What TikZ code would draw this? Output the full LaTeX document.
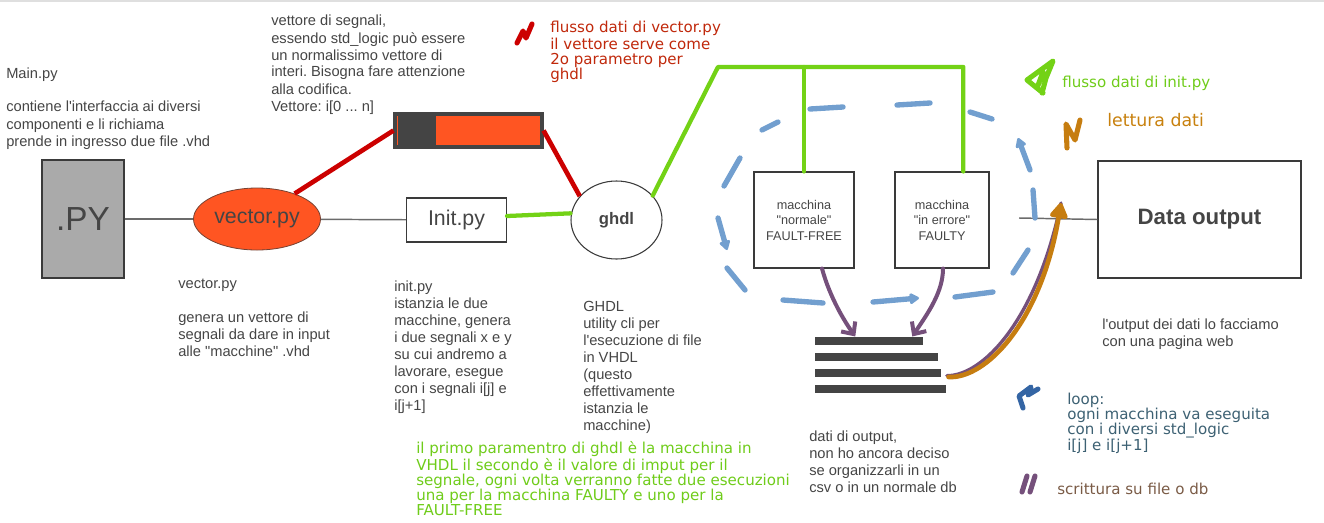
\documentclass[tikz,border=0pt]{standalone}
\usepackage{fontspec}
\setmainfont{Liberation Sans}[Ligatures=TeXOff]
\newfontfamily\handfont{DejaVu Sans}
\usepackage{tikz}
\usetikzlibrary{positioning, shapes.geometric, arrows.meta}
\definecolor{txtgray}{HTML}{454545}
\definecolor{boxline}{HTML}{3A3A3A}
\definecolor{wiregray}{HTML}{6B6B6B}
\definecolor{vecred}{HTML}{CC0000}
\definecolor{initgreen}{HTML}{73D216}
\definecolor{loopblue}{HTML}{729FCF}
\definecolor{loopdark}{HTML}{3465A4}
\definecolor{writepurple}{HTML}{75507B}
\definecolor{readorange}{HTML}{C67D10}
\definecolor{pyorange}{HTML}{FF5522}
\definecolor{pygray}{HTML}{AAAAAA}
\definecolor{bargray}{HTML}{444444}
\definecolor{annred}{HTML}{C0280B}
\definecolor{anngreen}{HTML}{6FCC1A}
\definecolor{annorange}{HTML}{C8810E}
\definecolor{annblue}{HTML}{3D6173}
\definecolor{annbrown}{HTML}{7A5B46}
\frenchspacing

\begin{document}
\begin{tikzpicture}[
    x=0.75pt, y=-0.75pt,
    box/.style={draw=boxline, line width=0.8pt, inner sep=0pt, text=txtgray},
    note/.style={anchor=north west, align=left, inner sep=0pt, text=txtgray,
                 font=\fontsize{11}{12.75}\selectfont, execute at begin node=\strut},
    hand/.style={anchor=north west, align=left, inner sep=0pt,
                 font=\handfont\fontsize{11.3}{11.25}\selectfont, execute at begin node=\strut},
    wire/.style={draw=wiregray, line width=1.1pt},
    vecflow/.style={draw=vecred, line width=3.5pt},
    initflow/.style={draw=initgreen, line width=3.2pt, line join=round, line cap=round},
    loopdash/.style={draw=loopblue, line width=4pt, line cap=round},
    looparw/.style={loopdash, -{Triangle[round, length=8pt, width=9pt]}},
    wrt/.style={draw=writepurple, line width=3pt, line cap=round,
                -{Straight Barb[length=7pt, width=13pt]}},
    rd/.style={draw=readorange, line width=3.5pt, line cap=round,
               -{Triangle[round, length=13pt, width=15pt]}},
    legmark/.style={line width=3.8pt, line cap=round, line join=round},
]
\useasboundingbox (0,0) rectangle (1324,522);
\draw[gray!25, line width=1.5pt] (0,1) -- (1324,1);

\node[box, fill=pygray, minimum width=61.5pt, minimum height=88.5pt,
      font=\fontsize{25}{30}\selectfont] (py) at (83,219) {.PY};
\node[ellipse, draw=boxline!70!pyorange, line width=0.6pt, fill=pyorange, inner sep=0pt,
      minimum width=95.25pt, minimum height=46.5pt, text=txtgray,
      font=\fontsize{16}{19}\selectfont] (vec) at (257,219) {vector.py};
\node[box, minimum width=75pt, minimum height=33pt,
      font=\fontsize{16}{19}\selectfont] (init) at (456.5,220) {Init.py};
\node[ellipse, box, minimum width=68.25pt, minimum height=58.5pt,
      font=\bfseries\fontsize{12.5}{15}\selectfont] (ghdl) at (616.5,220) {ghdl};
\node[box, fill=bargray, draw=bargray, minimum width=111.75pt, minimum height=26.25pt] (bar) at (468.5,130.5) {};
\fill[pyorange] (436,116) rectangle (540,145);
\draw[pyorange, line width=0.75pt] (397,116) -- (397,145);

\node[box, minimum width=75pt, minimum height=72pt, align=center,
      font=\fontsize{9.5}{11.6}\selectfont] (normal) at (804,220) {macchina\\"normale"\\FAULT-FREE};
\node[box, minimum width=70.5pt, minimum height=72pt, align=center,
      font=\fontsize{9.5}{11.6}\selectfont] (faulty) at (942,220) {macchina\\"in errore"\\FAULTY};
\node[box, minimum width=152.25pt, minimum height=87.75pt,
      font=\bfseries\fontsize{16.7}{20}\selectfont] (data) at (1199.5,219.5) {Data output};

\foreach \i/\w/\y in {1/108/341, 2/123/357, 3/126/373, 4/131/389}
    \node[fill=bargray, inner sep=0pt, minimum width=\w*0.75pt, minimum height=6.4pt, anchor=west] (s\i) at (815,\y) {};

\node[note] (maintxt) at (6,67.1) {Main.py\\[12.75pt]contiene l'interfaccia ai diversi\\componenti e li richiama\\prende in ingresso due file .vhd};
\node[note] (vettxt) at (271,15.1) {vettore di segnali,\\essendo std\_logic può essere\\un normalissimo vettore di\\interi. Bisogna fare attenzione\\alla codifica.\\Vettore: i[0 ... n]};
\node[note] (vectxt) at (178,279.1) {vector.py\\[12.75pt]genera un vettore di\\segnali da dare in input\\alle "macchine" .vhd};
\node[note] (inittxt) at (394,280.1) {init.py\\istanzia le due\\macchine, genera\\i due segnali x e y\\su cui andremo a\\lavorare, esegue\\con i segnali i[j] e\\i[j+1]};
\node[note] (ghdltxt) at (583,301.1) {GHDL\\utility cli per\\l'esecuzione di file\\in VHDL\\(questo\\effettivamente\\istanzia le\\macchine)};
\node[note] (datitxt) at (809,430.1) {dati di output,\\non ho ancora deciso\\se organizzarli in un\\csv o in un normale db};
\node[note] (webtxt) at (1102,318.1) {l'output dei dati lo facciamo\\con una pagina web};

\node[hand, text=annred] (vecleg) at (550,20.5) {flusso dati di vector.py\\[1.5pt]il vettore serve come\\2o parametro per\\ghdl};
\node[hand, text=anngreen] (initleg) at (1062,75.5) {flusso dati di init.py};
\node[hand, text=annorange, font=\handfont\fontsize{13}{15}\selectfont] (readleg) at (1107,112) {lettura dati};
\node[hand, text=annblue] (loopleg) at (1067,392.5) {loop:\\ogni macchina va eseguita\\con i diversi std\_logic\\i[j] e i[j+1]};
\node[hand, text=annbrown] (writeleg) at (1057,482.5) {scrittura su file o db};
\node[hand, text=anngreen] (paramtxt) at (416,441.5) {il primo paramentro di ghdl è la macchina in\\VHDL il secondo è il valore di imput per il\\segnale, ogni volta verranno fatte due esecuzioni\\una per la macchina FAULTY e uno per la\\FAULT-FREE};

\draw[wire] (py) -- (vec);
\draw[wire] (vec) -- (init);
\draw[vecflow] (vec.34) -- (bar.west);
\draw[vecflow] (bar.east) -- (ghdl.147);
\draw[initflow] ([yshift=3pt]init.east) -- ([yshift=5pt]ghdl.west);
\coordinate (bend) at (718,67);
\draw[initflow] (ghdl.34) -- (bend) -| ([xshift=16pt]faulty.north);
\draw[initflow] (bend -| normal.north) -- (normal.north);
\coordinate (outstub) at (1019,218);
\draw[wire] (outstub) -- (data.west);

\foreach \xa/\ya/\xb/\yb in {740/158/724/186, 727/268/745/290, 783/300/823/303, 955/297/993/292,
    1013/273/1028/250, 1033/190/1035/218, 970/112/992/119, 897/105/930/103, 810/109/843/107, 762/130/778/122}
    \draw[loopdash] (\xa,\ya) -- (\xb,\yb);
\draw[looparw] (718,218) -- (727,250);
\draw[looparw] (873,302) -- (919,298);
\draw[looparw] (1030,170) -- (1018,138);

\draw[wrt] ([xshift=13.5pt]normal.south) .. controls (830,298) and (845,322) .. ([xshift=-10.5pt]s1.north);
\draw[wrt] ([xshift=0.75pt]faulty.south) .. controls (943,292) and (928,313) .. ([xshift=32.25pt]s1.north);

\coordinate (rdtip) at (1061,203);
\draw[draw=writepurple, line width=2.5pt, line cap=round] ([xshift=4pt,yshift=-2pt]s3.east) .. controls (982,376) and (1036,322) .. (rdtip);
\draw[rd] ([xshift=5.25pt,yshift=-3pt]s3.east) .. controls (986,379) and (1041,322) .. (rdtip);

\draw[legmark, draw=vecred] (517,43) -- (523,31) -- (526,38) -- (532,24);
\draw[legmark, draw=initgreen] (1043,93) -- (1027,80) -- (1053,61) -- (1046,78) -- (1042,93) (1037,88) -- (1043,72);
\draw[legmark, draw=readorange] (1067,148) -- (1066,124) -- (1075,140) -- (1080,120);
\draw[legmark, draw=loopdark] (1023,408) -- (1019,396) -- (1031,387) -- (1028,395) -- (1038,389);
\draw[legmark, draw=writepurple] (1027,476) -- (1022,492) (1030,492) -- (1035,476);
\end{tikzpicture}
\end{document}
